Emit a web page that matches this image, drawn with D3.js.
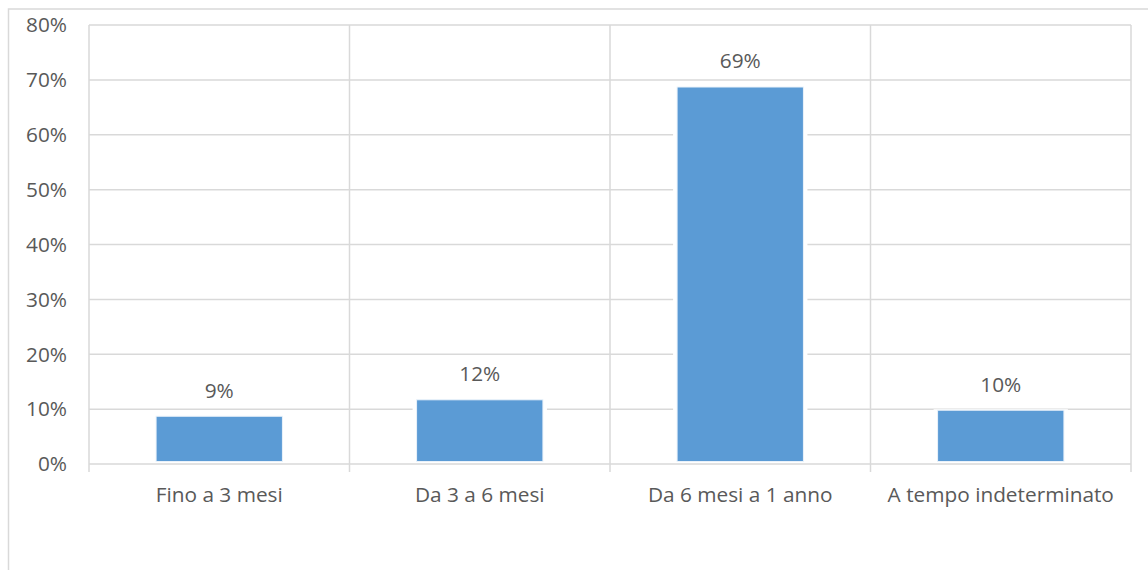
<!DOCTYPE html>
<html><head><meta charset="utf-8">
<script src="https://cdn.jsdelivr.net/npm/d3@7"></script>
<style>
body{margin:0;background:#fff;}
svg{display:block;}
text{font-family:"Open Sans",sans-serif;fill:#595959;}
</style></head>
<body><svg id="c" width="1148" height="570"></svg>
<script>
const categories = ["Fino a 3 mesi","Da 3 a 6 mesi","Da 6 mesi a 1 anno","A tempo indeterminato"];
const values = [0.087, 0.117, 0.687, 0.098];
const valueLabels = ["9%","12%","69%","10%"];
const yTicks = [0,0.1,0.2,0.3,0.4,0.5,0.6,0.7,0.8];

const svg = d3.select("#c");
const M = {left:89, right:1131, top:25, bottom:464};
const FS = 20.8;

// outer border
svg.append("rect").attr("x",8.5).attr("y",9).attr("width",1148).attr("height",570)
  .attr("fill","none").attr("stroke","#d9d9d9").attr("stroke-width",1.5);

const x = d3.scaleBand().domain(categories).range([M.left,M.right]).paddingInner(0).paddingOuter(0);
const y = d3.scaleLinear().domain([0,0.8]).range([M.bottom,M.top]);

// horizontal gridlines
svg.append("g").selectAll("line").data(yTicks).join("line")
  .attr("x1",M.left).attr("x2",M.right)
  .attr("y1",d=>y(d)).attr("y2",d=>y(d))
  .attr("stroke","#d9d9d9").attr("stroke-width",1.5);

// vertical gridlines at category boundaries
const bounds = categories.map(c=>x(c)).concat([M.right]);
svg.append("g").selectAll("line").data(bounds).join("line")
  .attr("x1",d=>d).attr("x2",d=>d)
  .attr("y1",M.top).attr("y2",M.bottom+8)
  .attr("stroke","#d9d9d9").attr("stroke-width",1.5);

// y tick labels
svg.append("g").selectAll("text").data(yTicks).join("text")
  .attr("x",67).attr("y",d=>y(d)).attr("dy","0.35em")
  .attr("text-anchor","end").attr("font-size",FS)
  .text(d=>d3.format(".0%")(d));

const bw = x.bandwidth()*0.485;
const cx = c => x(c)+x.bandwidth()/2;

// white halo behind bars
svg.append("g").selectAll("rect").data(values).join("rect")
  .attr("x",(d,i)=>cx(categories[i])-bw/2-4)
  .attr("width",bw+8)
  .attr("y",d=>y(d)-1)
  .attr("height",d=>M.bottom-2-y(d)+1)
  .attr("fill","#fff");

svg.append("g").selectAll("rect").data(values).join("rect")
  .attr("x",(d,i)=>cx(categories[i])-bw/2)
  .attr("width",bw)
  .attr("y",d=>y(d))
  .attr("height",d=>M.bottom-2.5-y(d))
  .attr("fill","#5b9bd5").attr("stroke","#eaf2fa").attr("stroke-width",1);

// value labels
svg.append("g").selectAll("text").data(values).join("text")
  .attr("x",(d,i)=>cx(categories[i])).attr("y",d=>y(d)-26)
  .attr("dy","0.35em").attr("text-anchor","middle").attr("font-size",FS)
  .text((d,i)=>valueLabels[i]);

// category labels
svg.append("g").selectAll("text").data(categories).join("text")
  .attr("x",d=>cx(d)).attr("y",495).attr("dy","0.35em")
  .attr("text-anchor","middle").attr("font-size",FS)
  .text(d=>d);
</script></body></html>
